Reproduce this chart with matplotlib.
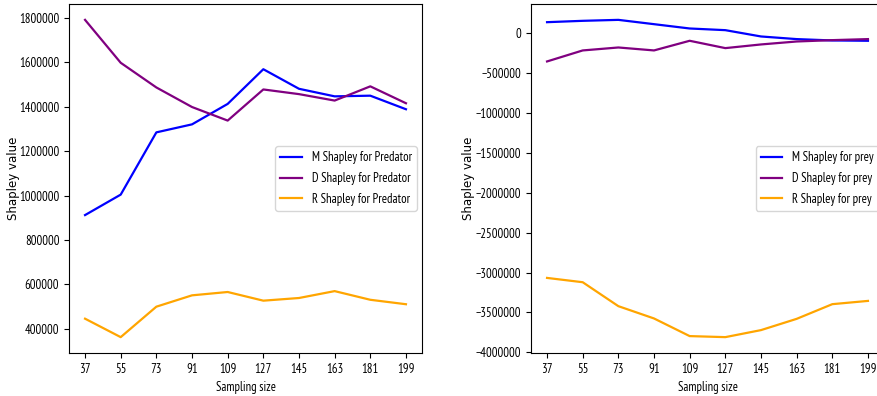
import matplotlib
matplotlib.use("Agg")
import matplotlib.pyplot as plt
from matplotlib import font_manager as fm
from matplotlib.font_manager import FontProperties

# sampling sizes on the x axis
sizes = [37, 55, 73, 91, 109, 127, 145, 163, 181, 199]

# predator Shapley values
m_pred = [912000, 1004000, 1284000, 1320000, 1412000, 1568000, 1480000, 1446000, 1449000, 1388000]
d_pred = [1790000, 1597000, 1486000, 1398000, 1337000, 1477000, 1456000, 1427000, 1491000, 1415000]
r_pred = [446000, 363000, 500000, 551000, 566000, 527000, 539000, 570000, 531000, 511000]

# prey Shapley values
m_prey = [137000, 154000, 166000, 112000, 58000, 37000, -42000, -75000, -92000, -96000]
d_prey = [-355000, -217000, -180000, -217000, -96000, -188000, -142000, -105000, -88000, -75000]
r_prey = [-3067000, -3121000, -3421000, -3575000, -3796000, -3809000, -3721000, -3580000, -3396000, -3355000]


def weight_num(w):
    if isinstance(w, (int, float)):
        return w
    return fm.weight_dict.get(str(w).lower(), 400)


# pick a regular-weight narrow font file (the picture's text is horizontally squeezed)
cands = []
for name in ('Liberation Sans Narrow', 'PT Sans Narrow', 'Roboto Condensed'):
    cands = [f for f in fm.fontManager.ttflist
             if f.name == name and f.style == 'normal' and 'bold' not in f.fname.lower()]
    if cands:
        cands.sort(key=lambda f: abs(weight_num(f.weight) - 400))
        break


def narrow(size):
    if cands:
        return FontProperties(fname=cands[0].fname, size=size)
    return FontProperties(family='DejaVu Sans', size=size * 0.8)


fig = plt.figure(figsize=(8.78, 3.96), dpi=100)
W, H = 878, 396


def make_axes(left_px):
    return fig.add_axes([left_px / W, (H - 353) / H, 353 / W, 349 / H])


ax1 = make_axes(69)
ax2 = make_axes(531)

for ax, (m, d, r), who, labx in [(ax1, (m_pred, d_pred, r_pred), 'Predator', -0.14),
                                 (ax2, (m_prey, d_prey, r_prey), 'prey', -0.16)]:
    ax.plot(sizes, m, color='blue', lw=1.6, label='M Shapley for ' + who)
    ax.plot(sizes, d, color='purple', lw=1.6, label='D Shapley for ' + who)
    ax.plot(sizes, r, color='orange', lw=1.6, label='R Shapley for ' + who)
    ax.set_xticks(sizes)
    ax.set_xticklabels([str(s) for s in sizes], fontproperties=narrow(9.2))
    lim = ax.get_ylim()
    yt = [t for t in ax.get_yticks() if lim[0] <= t <= lim[1]]
    ax.set_yticks(yt)
    ax.set_yticklabels([f"{int(t)}".replace('-', '\u2212') for t in yt], fontproperties=narrow(9.2))
    ax.set_ylim(lim)
    ax.set_xlabel('Sampling size', fontproperties=narrow(9))
    ax.set_ylabel('Shapley value', fontsize=8.5, family='DejaVu Sans')
    ax.yaxis.set_label_coords(labx, 0.5)
    ax.legend(loc='center right', prop=narrow(9.1), handlelength=1.7,
              labelspacing=0.6, borderaxespad=0.4)

fig.savefig('out.png', dpi=100)
